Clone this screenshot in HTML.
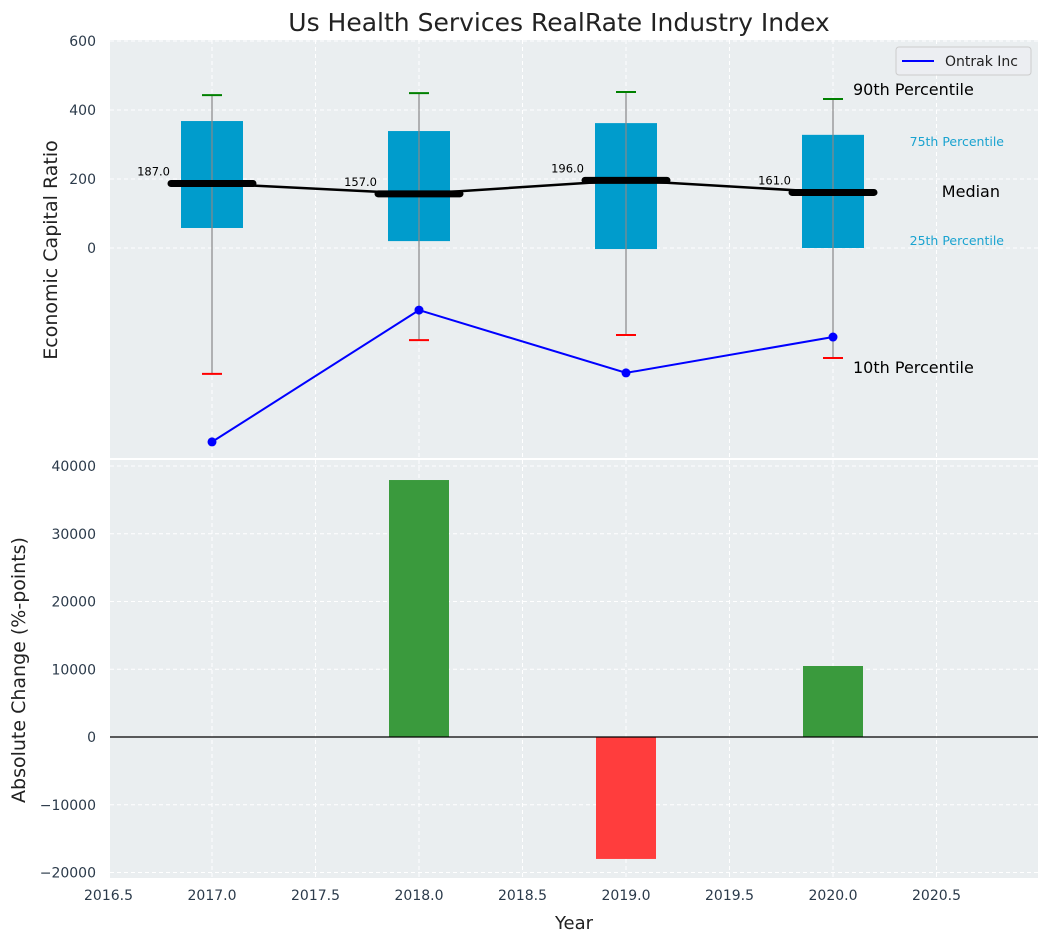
<!DOCTYPE html>
<html><head><meta charset="utf-8"><style>
body{margin:0;background:#fff;font-family:"Liberation Sans","DejaVu Sans",sans-serif}
svg text{font-family:"DejaVu Sans","Liberation Sans",sans-serif}
</style></head><body>
<svg id="c" width="1048" height="942" xmlns="http://www.w3.org/2000/svg"></svg>
<script>
const years=[2017,2018,2019,2020];
const p10=[-365,-267,-252,-319];
const q1=[58,20,-3,0];
const med=[187,157,196,161];
const q3=[368,339,362,328];
const p90=[443,449,452,432];
const ontrak=[-562,-180,-362,-258];
const changes=[0,37930,-18000,10480];
const xTicks=[2016.5,2017,2017.5,2018,2018.5,2019,2019.5,2020,2020.5];
const yTopTicks=[0,200,400,600];
const yBotTicks=[-20000,-10000,0,10000,20000,30000,40000];

const svg=document.getElementById('c');const NS='http://www.w3.org/2000/svg';
function el(t,a,txt){const e=document.createElementNS(NS,t);for(const k in a)e.setAttribute(k,a[k]);if(txt!==undefined)e.textContent=txt;svg.appendChild(e);return e;}
const L=110,R=1038,T1=40,B1=458,T2=460,B2=878;
const X=v=>108.5+(v-2016.5)*207;
const Y1=v=>248-v*69/200;
const Y2=v=>737-v*67.75/10000;

let e=el('rect',{x:L,y:T1,width:R-L,height:B1-T1,fill:'#eaeef0'});

e=el('rect',{x:L,y:T2,width:R-L,height:B2-T2,fill:'#eaeef0'});


xTicks.forEach(v=>{[[T1,B1],[T2,B2]].forEach(p=>{const g=el('line',{x1:X(v),x2:X(v),y1:p[0],y2:p[1],stroke:'#fff','stroke-dasharray':'4,3','stroke-width':1});});});
yTopTicks.forEach(v=>{const g=el('line',{x1:L,x2:R,y1:Y1(v),y2:Y1(v),stroke:'#fff','stroke-dasharray':'4,3'});
const t=el('text',{x:L-14,y:Y1(v)+5,'text-anchor':'end','font-size':14,fill:'#2b3a4a'},v);});
yBotTicks.forEach(v=>{const g=el('line',{x1:L,x2:R,y1:Y2(v),y2:Y2(v),stroke:'#fff','stroke-dasharray':'4,3'});
const t=el('text',{x:L-14,y:Y2(v)+5,'text-anchor':'end','font-size':14,fill:'#2b3a4a'},v<0?'\u2212'+(-v):v);});
xTicks.forEach(v=>{const t=el('text',{x:X(v),y:B2+22,'text-anchor':'middle','font-size':14,fill:'#2b3a4a'},v.toFixed(1));});

years.forEach((y,i)=>{
 const b=el('rect',{x:X(y)-31,y:Y1(q3[i]),width:62,height:Y1(q1[i])-Y1(q3[i]),fill:'#009ccc'});
 
 const w=el('line',{x1:X(y),x2:X(y),y1:Y1(p90[i]),y2:Y1(p10[i]),stroke:'#888','stroke-width':1.2});
 
 const c1=el('line',{x1:X(y)-10,x2:X(y)+10,y1:Y1(p90[i]),y2:Y1(p90[i]),stroke:'green','stroke-width':2});
 
 const c2=el('line',{x1:X(y)-10,x2:X(y)+10,y1:Y1(p10[i]),y2:Y1(p10[i]),stroke:'red','stroke-width':2});
 
});
const ml=el('polyline',{points:years.map((y,i)=>X(y)+','+Y1(med[i])).join(' '),fill:'none',stroke:'#000','stroke-width':2.5});

years.forEach((y,i)=>{
 const m=el('line',{x1:X(y)-41,x2:X(y)+41,y1:Y1(med[i]),y2:Y1(med[i]),stroke:'#000','stroke-width':7,'stroke-linecap':'round'});
 
 const t=el('text',{x:X(y)-42,y:Y1(med[i])-8,'text-anchor':'end','font-size':11.5,fill:'#000'},med[i].toFixed(1));
 
});
const ol=el('polyline',{points:years.map((y,i)=>X(y)+','+Y1(ontrak[i])).join(' '),fill:'none',stroke:'#0000ff','stroke-width':2});

years.forEach((y,i)=>{const p=el('circle',{cx:X(y),cy:Y1(ontrak[i]),r:4.5,fill:'#0000ff'});});

const last=years.length-1;
[['90th Percentile',X(years[last])+20,Y1(p90[last])-4,16,'#000','start','p90-annotation'],
 ['75th Percentile',1004,146,12.5,'#1aa3d0','end','p75-annotation'],
 ['Median',1000,197,16,'#000','end','median-annotation'],
 ['25th Percentile',1004,245,12.5,'#1aa3d0','end','p25-annotation'],
 ['10th Percentile',X(years[last])+20,373,16,'#000','start','p10-annotation']].forEach(a=>{
 const t=el('text',{x:a[1],y:a[2],'font-size':a[3],fill:a[4],'text-anchor':a[5]},a[0]);
 });

e=el('rect',{x:896,y:47,width:135,height:28,rx:3,fill:'#eceef2',stroke:'#ccc'});

e=el('line',{x1:902,x2:934,y1:61,y2:61,stroke:'#0000ff','stroke-width':2});

e=el('text',{x:945,y:66,'font-size':14,fill:'#222'},'Ontrak Inc');


years.forEach((y,i)=>{const v=changes[i];if(!v)return;
 const b=el('rect',{x:X(y)-30,y:Math.min(Y2(0),Y2(v)),width:60,height:Math.abs(Y2(v)-Y2(0)),fill:v>0?'#3a9a3d':'#ff3d3d'});
 });
e=el('line',{x1:L,x2:R,y1:Y2(0),y2:Y2(0),stroke:'#000','stroke-width':1.2});


e=el('text',{x:559,y:31,'text-anchor':'middle','font-size':25,fill:'#222'},'Us Health Services RealRate Industry Index');

e=el('text',{x:0,y:0,'text-anchor':'middle','font-size':19,fill:'#222',transform:'translate(57,250) rotate(-90)'},'Economic Capital Ratio');

e=el('text',{x:0,y:0,'text-anchor':'middle','font-size':19,fill:'#222',transform:'translate(25,670) rotate(-90)'},'Absolute Change (%-points)');

e=el('text',{x:574,y:929,'text-anchor':'middle','font-size':18,fill:'#222'},'Year');

</script>
</body></html>
